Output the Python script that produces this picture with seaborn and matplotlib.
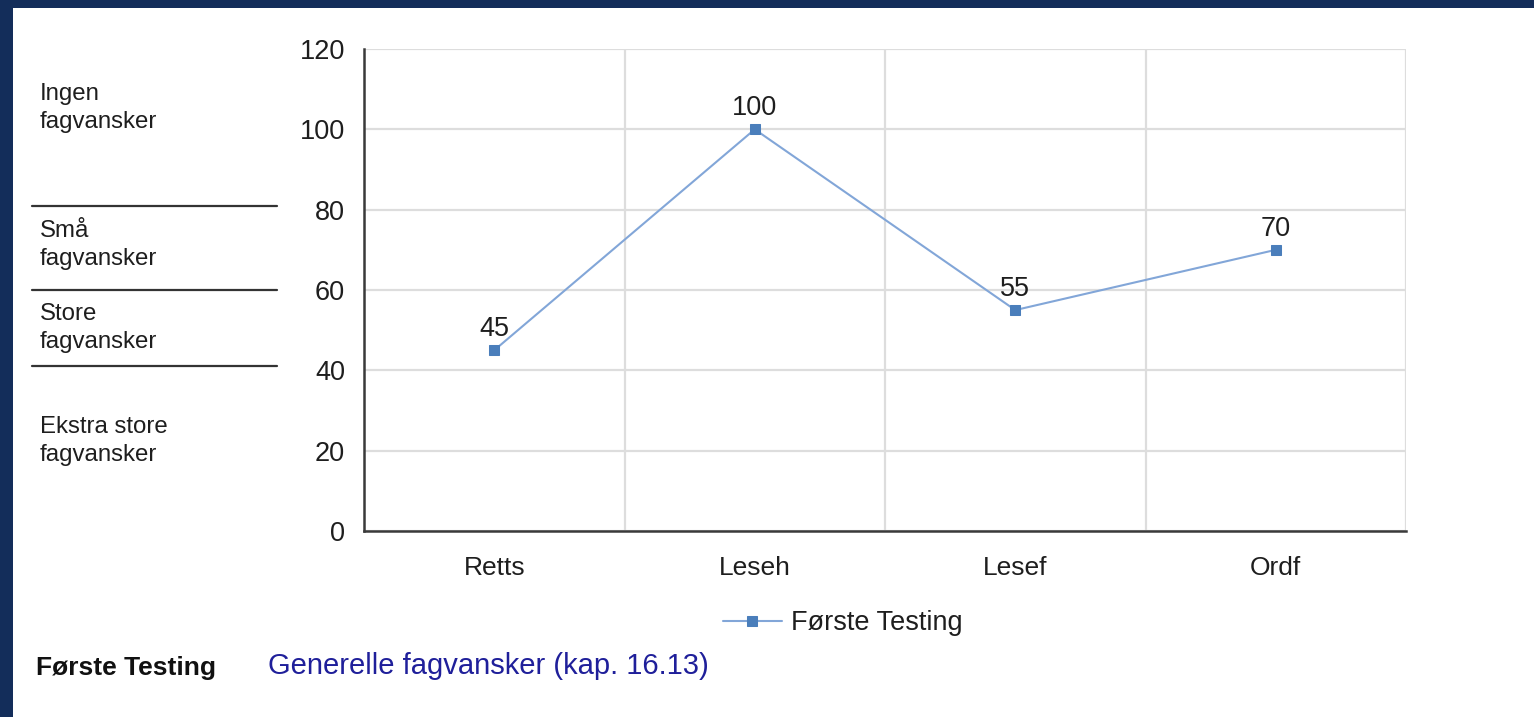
import matplotlib
matplotlib.use("Agg")
import matplotlib.pyplot as plt
from matplotlib.lines import Line2D
from matplotlib.patches import Rectangle
from matplotlib.ticker import FixedLocator
import pandas as pd
import seaborn as sns

# Data
categories = ["Retts", "Leseh", "Lesef", "Ordf"]
values = [45, 100, 55, 70]
series_name = "Første Testing"
y_ticks = [0, 20, 40, 60, 80, 100, 120]

# Left-hand band labels (text, y in figure px from top)
band_labels = ["Ingen\nfagvansker", "Små\nfagvansker", "Store\nfagvansker", "Ekstra store\nfagvansker"]
band_label_y = [108, 245, 328, 441]
band_line_y = [206, 290, 366]

W, H = 1534, 717
LINE_COLOR = "#82a6d8"
MARKER_COLOR = "#4a7ebb"
GRID_COLOR = "#dddddd"
AXIS_COLOR = "#3a3a3a"
TEXT_COLOR = "#1e1e1e"

sns.set_style("white")
plt.rcParams["font.family"] = ["Liberation Sans", "DejaVu Sans"]

df = pd.DataFrame({"kategori": categories, "verdi": values, "serie": series_name})

fig = plt.figure(figsize=(W / 100, H / 100), dpi=100)
fig.patch.set_facecolor("#132d5a")
fig.patches.append(Rectangle((13 / W, 0), 1 - 13 / W, 1 - 8 / H,
                             transform=fig.transFigure, facecolor="white",
                             edgecolor="none", zorder=-10))

ax = fig.add_axes([364 / W, 1 - 531 / H, (1406 - 364) / W, (531 - 49) / H])
ax.set_facecolor("white")

sns.lineplot(data=df, x="kategori", y="verdi", ax=ax, color=LINE_COLOR,
             linewidth=1.5, marker="s", markersize=7,
             markerfacecolor=MARKER_COLOR, markeredgecolor=MARKER_COLOR,
             label=series_name, sort=False)

ax.set_xlim(-0.5, len(categories) - 0.5)
ax.set_ylim(0, 120)
ax.set_yticks(y_ticks)
ax.set_xlabel("")
ax.set_ylabel("")

# grid: horizontal at each y tick, vertical at category boundaries
bounds = [i - 0.5 for i in range(len(categories) + 1)]
ax.xaxis.set_minor_locator(FixedLocator(bounds))
ax.grid(axis="y", which="major", color=GRID_COLOR, linewidth=1.6)
ax.grid(axis="x", which="minor", color=GRID_COLOR, linewidth=1.6)
ax.set_axisbelow(True)

ax.tick_params(axis="x", which="major", length=0, pad=18, labelsize=19, colors=TEXT_COLOR)
ax.tick_params(axis="x", which="minor", length=20, width=1.6, direction="inout", color=AXIS_COLOR)
ax.tick_params(axis="y", which="major", length=17, width=1.6, direction="inout",
               color=AXIS_COLOR, labelsize=19.5, labelcolor=TEXT_COLOR, pad=5)

for side in ["top", "right"]:
    ax.spines[side].set_visible(False)
for side in ["left", "bottom"]:
    ax.spines[side].set_color(AXIS_COLOR)
    ax.spines[side].set_linewidth(1.8)

# value labels
for i, v in enumerate(values):
    ax.annotate(str(v), (i, v), xytext=(0, 6), textcoords="offset points",
                ha="center", va="bottom", fontsize=19.5, color=TEXT_COLOR)

leg = ax.legend(loc="center", bbox_to_anchor=((843 - 364) / 1042, (531 - 623) / 482),
                frameon=False, fontsize=19.5, handlelength=2.15, handletextpad=0.35,
                borderpad=0, borderaxespad=0)
for t in leg.get_texts():
    t.set_color(TEXT_COLOR)

# left band labels and separators
for txt, y in zip(band_labels, band_label_y):
    fig.text(40 / W, 1 - y / H, txt, ha="left", va="center", fontsize=17.3,
             color=TEXT_COLOR, linespacing=1.35)
for y in band_line_y:
    fig.add_artist(Line2D([32 / W, 277 / W], [1 - y / H, 1 - y / H],
                          transform=fig.transFigure, color="#333333", linewidth=1.6))

# footer texts
fig.text(36 / W, 1 - 668 / H, series_name, ha="left", va="center", fontsize=19,
         fontweight="bold", color="#111111")
fig.text(268 / W, 1 - 666 / H, "Generelle fagvansker (kap. 16.13)", ha="left",
         va="center", fontsize=21, color="#1f1f9a")

fig.savefig("out.png", dpi=100, facecolor=fig.get_facecolor())
